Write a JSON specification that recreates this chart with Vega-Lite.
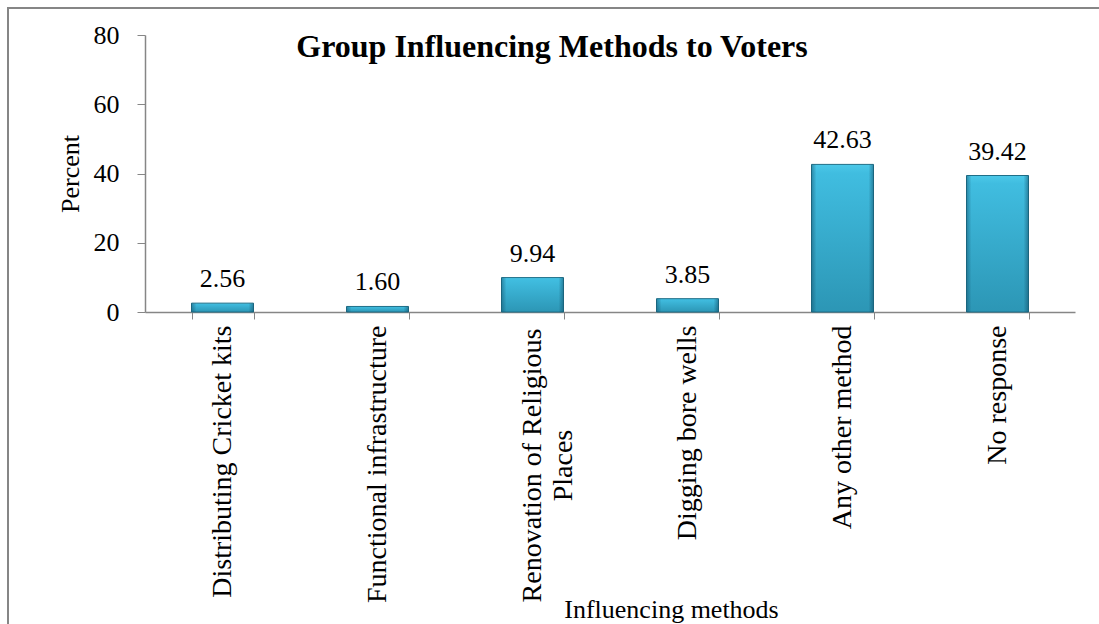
{
  "$schema": "https://vega.github.io/schema/vega-lite/v6.json",
  "width": 1100,
  "height": 620,
  "autosize": {"type": "none"},
  "padding": {"left": 8, "top": 8, "right": 0, "bottom": 0},
  "background": "white",
  "config": {
    "view": {"stroke": "#868686", "strokeWidth": 2},
    "font": "Liberation Serif",
    "text": {"font": "Liberation Serif"}
  },
  "title": {
    "text": "Group Influencing Methods to Voters",
    "font": "Liberation Serif",
    "fontSize": 32,
    "fontWeight": "bold",
    "color": "black",
    "anchor": "middle",
    "frame": "group",
    "baseline": "alphabetic",
    "offset": -81,
    "dx": -6
  },
  "data": {
    "values": [
      {"method": "Distributing Cricket kits", "percent": 2.56},
      {"method": "Functional infrastructure", "percent": 1.60},
      {"method": "Renovation of Religious Places", "percent": 9.94},
      {"method": "Digging bore wells", "percent": 3.85},
      {"method": "Any other method", "percent": 42.63},
      {"method": "No response", "percent": 39.42}
    ]
  },
  "encoding": {
    "x": {
      "field": "method",
      "type": "nominal",
      "sort": null,
      "scale": {"range": [137, 1067], "paddingInner": 0.6, "paddingOuter": 0.3},
      "axis": {
        "orient": "bottom",
        "offset": -316,
        "tickBand": "extent",
        "tickSize": 7,
        "tickColor": "#868686",
        "domainColor": "#868686",
        "domainWidth": 1.5,
        "labelAngle": -90,
        "labelFont": "Liberation Serif",
        "labelFontSize": 28,
        "labelColor": "black",
        "labelAlign": {"condition": {"test": "datum.value == 'Renovation of Religious Places'", "value": "center"}, "value": "right"},
        "labelPadding": {"condition": {"test": "datum.value == 'Renovation of Religious Places'", "value": 146}, "value": 6},
        "labelLimit": 0,
        "labelLineHeight": 31,
        "labelExpr": "datum.value == 'Renovation of Religious Places' ? ['Renovation of Religious', 'Places'] : datum.label",
        "title": "Influencing methods",
        "titleFont": "Liberation Serif",
        "titleFontSize": 26,
        "titleFontWeight": "normal",
        "titleColor": "black",
        "titleX": 663,
        "titleY": 305,
        "titleBaseline": "alphabetic",
        "titleAlign": "center"
      }
    },
    "y": {
      "field": "percent",
      "type": "quantitative",
      "scale": {"domain": [0, 80], "range": [304, 27], "nice": false},
      "axis": {
        "orient": "left",
        "offset": -137,
        "values": [0, 20, 40, 60, 80],
        "grid": false,
        "tickSize": 8,
        "tickColor": "#868686",
        "domainColor": "#868686",
        "domainWidth": 1.5,
        "labelFont": "Liberation Serif",
        "labelFontSize": 26,
        "labelColor": "black",
        "labelPadding": 18,
        "title": "Percent",
        "titleFont": "Liberation Serif",
        "titleFontSize": 26,
        "titleFontWeight": "normal",
        "titleColor": "black",
        "titlePadding": 10
      }
    }
  },
  "layer": [
    {
      "mark": {
        "type": "bar",
        "fill": {
          "gradient": "linear",
          "x1": 0, "y1": 0, "x2": 0, "y2": 1,
          "stops": [
            {"offset": 0, "color": "#4cc8e8"},
            {"offset": 0.06, "color": "#40bde0"},
            {"offset": 1, "color": "#2c96b5"}
          ]
        },
        "stroke": "#1f6f88",
        "strokeWidth": 1
      }
    },
    {
      "mark": {
        "type": "bar",
        "fill": {
          "gradient": "linear",
          "x1": 0, "y1": 0, "x2": 1, "y2": 0,
          "stops": [
            {"offset": 0, "color": "rgba(15,70,95,0.45)"},
            {"offset": 0.08, "color": "rgba(15,70,95,0)"},
            {"offset": 0.92, "color": "rgba(15,70,95,0)"},
            {"offset": 1, "color": "rgba(15,70,95,0.5)"}
          ]
        }
      }
    },
    {
      "mark": {
        "type": "text",
        "baseline": "alphabetic",
        "dy": -16,
        "font": "Liberation Serif",
        "fontSize": 26,
        "color": "black"
      },
      "encoding": {
        "text": {"field": "percent", "type": "quantitative", "format": ".2f"}
      }
    }
  ]
}
